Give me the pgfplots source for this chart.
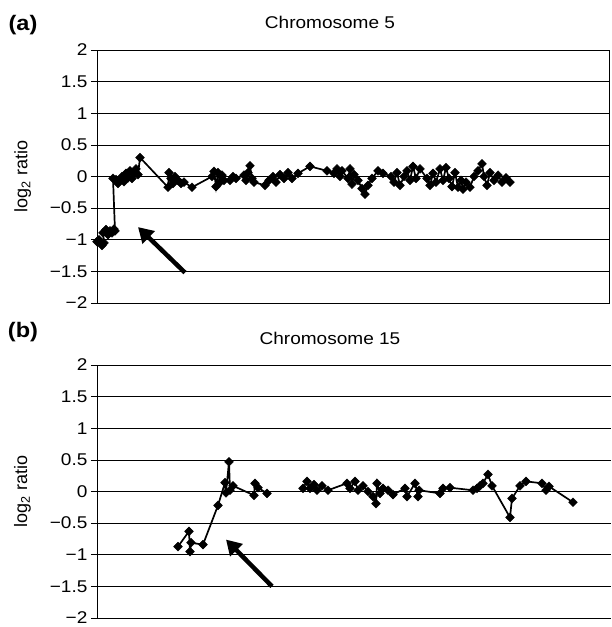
\documentclass[border=0pt]{standalone}
\usepackage{fontspec}
\setmainfont{Liberation Sans}
\usepackage{pgfplots}
\pgfplotsset{compat=1.18}
\usetikzlibrary{arrows.meta}

\tikzset{big arrow/.style={line width=4.5pt, -{Triangle[length=15pt, width=17pt]}}}

\pgfplotsset{
  chrom/.style={
    scale only axis, height=253pt, anchor=north west,
    xmin=0, ymin=-2, ymax=2,
    xtick=\empty,
    ytick={-2,-1.5,-1,-0.5,0,0.5,1,1.5,2},
    yticklabels={−2,−1.5,−1,−0.5,0,0.5,1,1.5,2},
    ytick pos=left,
    ymajorgrids,
    major grid style={black, line width=0.7pt},
    tick align=outside, major tick length=6pt,
    tick style={black, line width=0.7pt},
    axis line style={black, line width=0.9pt},
    yticklabel style={font=\fontsize{17}{17}\selectfont, inner sep=1pt, xscale=1.12, xshift=-2pt},
    ylabel={log\textsubscript{2} ratio},
    ylabel style={font=\fontsize{18}{19}\selectfont, at={(axis description cs:-0.145,0.5)}, anchor=center},
  },
  dots/.style={black, line width=1.7pt, mark=square*, mark size=3.1pt,
    mark options={solid, fill=black, line width=0.5pt, rotate=45}},
}

\begin{document}
\begin{tikzpicture}
\useasboundingbox (-97pt,50pt) rectangle (514pt,-577pt);

% (a) chromosome 5
\begin{axis}[chrom, at={(0pt,0pt)}, width=512pt, xmax=512]
\addplot[dots] coordinates {
(0,-1.03) (2,-1.00) (5,-1.09) (7,-1.05) (6,-0.89) (9,-0.84) (11,-0.92) (13,-0.86)
(15,-0.89) (17,-0.83) (18,-0.86) (16,-0.03) (19,-0.05) (21,-0.11) (23,-0.06) (25,0.0)
(27,-0.08) (29,0.05) (31,-0.02) (33,0.09) (35,-0.03) (37,0.06) (39,0.12) (41,0.03)
(43,0.30) (71,-0.17) (72,0.06) (74,-0.03) (76,-0.11) (78,0.0) (81,-0.06) (84,-0.11)
(87,-0.09) (95,-0.17) (115,0.0) (117,0.08) (119,-0.16) (121,0.06) (123,-0.09) (125,0.02)
(127,-0.06) (133,-0.06) (136,0.0) (139,-0.03) (147,0.02) (149,-0.06) (151,0.06) (153,0.17)
(155,-0.03) (157,-0.09) (168,-0.14) (172,-0.06) (176,0.0) (179,-0.09) (183,0.03) (187,-0.03)
(191,0.06) (195,-0.03) (201,0.05) (213,0.16) (230,0.09) (237,0.05) (240,0.12) (243,0.0)
(245,0.09) (251,-0.03) (253,0.12) (255,-0.12) (257,0.03) (261,-0.06) (265,-0.19) (268,-0.28)
(271,-0.14) (275,-0.03) (281,0.09) (286,0.05) (294,0.0) (297,-0.09) (300,0.06) (303,-0.14)
(307,0.0) (310,0.09) (313,-0.06) (316,0.16) (319,-0.03) (323,0.12) (330,-0.03) (333,-0.14)
(336,0.05) (339,-0.09) (343,0.12) (346,-0.06) (349,0.14) (352,-0.03) (355,-0.16) (358,0.06)
(361,-0.17) (364,-0.06) (366,-0.20) (369,-0.09) (373,-0.17) (377,0.0) (381,0.09) (385,0.20)
(387,0.0) (390,-0.14) (393,0.06) (397,-0.06) (401,0.02) (405,-0.09) (409,-0.02) (413,-0.09)
};
\draw[big arrow] (axis cs:88,-1.52) -- (axis cs:41,-0.80);
\end{axis}

% (b) chromosome 15
\begin{axis}[chrom, at={(0pt,-315pt)}, width=514pt, xmax=514,
  axis x line*=bottom, axis y line*=left]
\addplot[dots] coordinates {
(81,-0.87) (92,-0.63) (93,-0.95) (94,-0.81) (106,-0.84) (121,-0.22) (128,0.14) (129,-0.02)
(132,0.47) (133,0.02) (136,0.09) (157,-0.06) (158,0.13) (161,0.06) (170,-0.03)
};
\addplot[dots] coordinates {
(206,0.05) (210,0.16) (213,0.05) (217,0.11) (220,0.02) (225,0.09) (231,0.02) (250,0.13)
(253,0.05) (258,0.16) (261,0.02) (266,0.09) (271,0.0) (276,-0.08) (279,-0.19) (280,0.13)
(283,-0.03) (286,0.05) (291,0.02) (296,-0.05) (308,0.05) (310,-0.08) (318,0.13) (321,-0.08)
(322,0.02) (343,-0.03) (346,0.05) (353,0.06) (376,0.02) (380,0.05) (383,0.09) (386,0.13)
(391,0.27) (395,0.09) (413,-0.41) (415,-0.11) (423,0.09) (429,0.16) (445,0.13) (449,0.02)
(452,0.08) (476,-0.17)
};
\draw[big arrow] (axis cs:175,-1.50) -- (axis cs:129,-0.76);
\end{axis}

\node[font=\bfseries\fontsize{21}{21}\selectfont, xscale=1.12] at (-74pt,25pt) {(a)};
\node[font=\bfseries\fontsize{21}{21}\selectfont, xscale=1.12] at (-74pt,-282pt) {(b)};
\node[font=\fontsize{17}{17}\selectfont, xscale=1.12] at (233pt,28pt) {Chromosome 5};
\node[font=\fontsize{17}{17}\selectfont, xscale=1.12] at (233pt,-288pt) {Chromosome 15};
\end{tikzpicture}
\end{document}
